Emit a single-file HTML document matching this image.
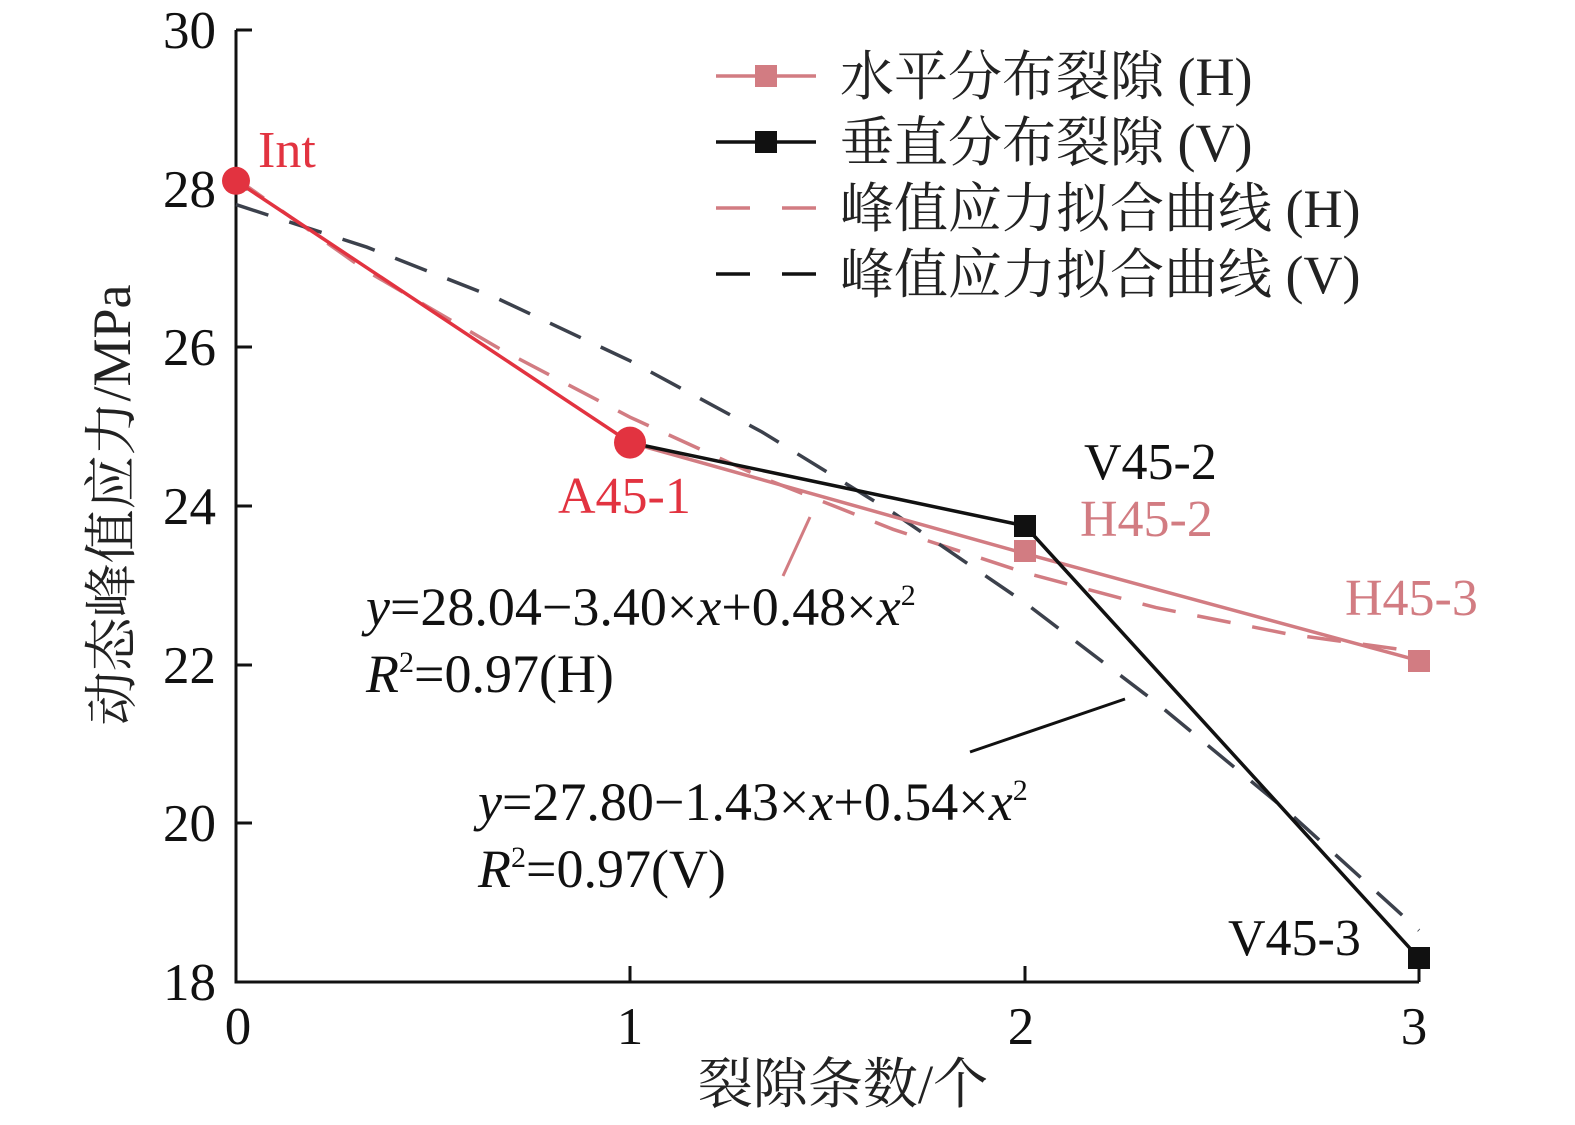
<!DOCTYPE html>
<html><head><meta charset="utf-8"><style>body{margin:0;background:#fff}svg{display:block}</style></head><body>
<svg width="1575" height="1125" xmlns="http://www.w3.org/2000/svg" font-family="Liberation Serif, Noto Serif CJK SC, serif">
<g stroke="#111" stroke-width="3" fill="none">
<path d="M236,30 V982 H1419"/>
<path d="M236,30 h16 M236,189 h16 M236,347 h16 M236,506 h16 M236,665 h16 M236,823 h16"/>
<path d="M630,982 v-16 M1025,982 v-16 M1419,982 v-16"/>
</g>
<g font-size="53" fill="#111" text-anchor="end">
<text x="216" y="48">30</text><text x="216" y="207">28</text><text x="216" y="365">26</text>
<text x="216" y="524">24</text><text x="216" y="683">22</text><text x="216" y="841">20</text><text x="216" y="1000">18</text>
</g>
<g font-size="53" fill="#111" text-anchor="middle">
<text x="238" y="1044">0</text><text x="630" y="1044">1</text><text x="1021" y="1044">2</text><text x="1414" y="1044">3</text>
</g>
<text x="843" y="1103" font-size="55" text-anchor="middle" fill="#222">裂隙条数/个</text>
<text transform="translate(130,505) rotate(-90)" font-size="54" text-anchor="middle" fill="#222">动态峰值应力/MPa</text>
<!-- fit curves -->
<polyline fill="none" stroke="#d27c82" stroke-width="3.5" stroke-dasharray="34,22" points="236,178.4 367,271.2 499,348.4 630,417.2 762,477.5 893,529.3 1025,572.7 1156,607.6 1288,634 1419,652"/>
<polyline fill="none" stroke="#3c414c" stroke-width="3.5" stroke-dasharray="34,22" points="236,204.6 367,247.2 499,299.2 630,360.8 762,432 893,512.6 1025,602.8 1156,702.5 1288,811.7 1419,930.4"/>
<!-- data lines -->
<polyline fill="none" stroke="#d27c82" stroke-width="3.5" points="630,442.6 1025,553.6 1419,660.7"/>
<polyline fill="none" stroke="#111" stroke-width="3.5" points="630,442.6 1025,525.9 1419,958.2"/>
<polyline fill="none" stroke="#e23340" stroke-width="3.5" points="236,180.8 630,442.6"/>
<circle cx="236" cy="180.8" r="14" fill="#e23340"/>
<circle cx="630" cy="442.6" r="16" fill="#e23340"/>
<rect x="1014" y="540" width="22" height="22" fill="#d27c82"/>
<rect x="1408" y="650" width="22" height="22" fill="#d27c82"/>
<rect x="1014" y="515" width="22" height="22" fill="#111"/>
<rect x="1408" y="947" width="22" height="22" fill="#111"/>
<!-- labels -->
<g font-size="52">
<text x="258" y="167" fill="#e23340">Int</text>
<text x="558" y="513" fill="#e23340">A45-1</text>
<text x="1084" y="479" fill="#111">V45-2</text>
<text x="1080" y="536" fill="#d27c82">H45-2</text>
<text x="1345" y="615" fill="#d27c82">H45-3</text>
<text x="1228" y="955" fill="#111">V45-3</text>
</g>
<line x1="783" y1="576" x2="810" y2="517" stroke="#d27c82" stroke-width="3"/>
<line x1="970" y1="752" x2="1125" y2="699" stroke="#111" stroke-width="3"/>
<g font-size="54" fill="#111">
<text x="366" y="625"><tspan font-style="italic">y</tspan>=28.04−3.40×<tspan font-style="italic">x</tspan>+0.48×<tspan font-style="italic">x</tspan><tspan font-size="30" dy="-20">2</tspan></text>
<text x="366" y="692"><tspan font-style="italic">R</tspan><tspan font-size="30" dy="-20">2</tspan><tspan dy="20">=0.97(H)</tspan></text>
<text x="478" y="820"><tspan font-style="italic">y</tspan>=27.80−1.43×<tspan font-style="italic">x</tspan>+0.54×<tspan font-style="italic">x</tspan><tspan font-size="30" dy="-20">2</tspan></text>
<text x="478" y="887"><tspan font-style="italic">R</tspan><tspan font-size="30" dy="-20">2</tspan><tspan dy="20">=0.97(V)</tspan></text>
</g>
<!-- legend -->
<g stroke-width="3.5">
<line x1="716" y1="76" x2="816" y2="76" stroke="#d27c82"/>
<rect x="755" y="65" width="22" height="22" fill="#d27c82" stroke="none"/>
<line x1="716" y1="142" x2="816" y2="142" stroke="#111"/>
<rect x="755" y="131" width="22" height="22" fill="#111" stroke="none"/>
<line x1="716" y1="208" x2="816" y2="208" stroke="#d27c82" stroke-dasharray="34,32"/>
<line x1="716" y1="274" x2="816" y2="274" stroke="#111" stroke-dasharray="34,32"/>
</g>
<g font-size="54" fill="#222">
<text x="840" y="95">水平分布裂隙 (H)</text>
<text x="840" y="161">垂直分布裂隙 (V)</text>
<text x="840" y="227">峰值应力拟合曲线 (H)</text>
<text x="840" y="293">峰值应力拟合曲线 (V)</text>
</g>
</svg>
</body></html>
